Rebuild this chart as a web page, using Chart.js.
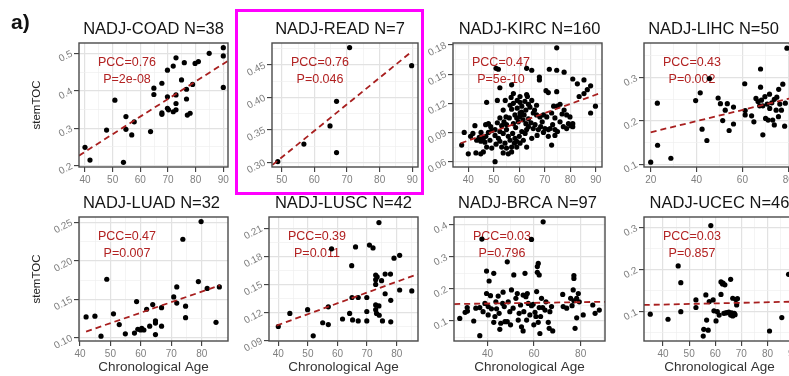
<!DOCTYPE html>
<html><head><meta charset="utf-8">
<script src="https://cdn.jsdelivr.net/npm/chart.js@4.4.1/dist/chart.umd.min.js"></script>
<style>
html,body{margin:0;padding:0;background:#fff;}
#wrap{position:relative;width:789px;height:376px;overflow:hidden;background:#fff;}
#wrap canvas{position:absolute;}
#tag{position:absolute;left:11px;top:11px;font:bold 21px "Liberation Sans",Arial,sans-serif;line-height:21px;color:#111;z-index:5;}
#hl{position:absolute;left:235px;top:9px;width:183px;height:180px;border:3px solid #ff00ff;z-index:10;}
</style></head>
<body><div id="wrap"><div id="tag">a)</div><div id="hl"></div></div>
<script>
// ---------------- DATA ----------------
const titles = ['NADJ-COAD N=38','NADJ-READ N=7','NADJ-KIRC N=160','NADJ-LIHC N=50','NADJ-LUAD N=32','NADJ-LUSC N=42','NADJ-BRCA N=97','NADJ-UCEC N=46'];
const pccLabels = ['PCC=0.76','PCC=0.76','PCC=0.47','PCC=0.43','PCC=0.47','PCC=0.39','PCC=0.03','PCC=0.03'];
const pLabels = ['P=2e-08','P=0.046','P=5e-10','P=0.002','P=0.007','P=0.011','P=0.796','P=0.857'];
const yAxisTitle = 'stemTOC';
const xAxisTitle = 'Chronological Age';

const coadAge = [40,41.8,47.8,50.8,53.9,54.8,54.8,56.9,57.8,63.7,64.9,64.9,67.8,67.8,67.8,69.8,69.8,69.8,71.9,71.9,72.9,72.9,72.9,72.9,74.9,75.9,76.7,76.7,77,78,78.9,79.8,81,84.9,90,90,90,70.2];
const coadToc = [0.249,0.215,0.295,0.375,0.209,0.331,0.297,0.282,0.317,0.291,0.407,0.390,0.420,0.341,0.337,0.455,0.384,0.353,0.466,0.344,0.488,0.389,0.366,0.349,0.429,0.475,0.404,0.378,0.335,0.340,0.417,0.473,0.478,0.500,0.515,0.493,0.409,0.349];
const coadFitX = [37.8,91.7], coadFitY = [0.2267,0.480];
const coadXTicks = [40,50,60,70,80,90], coadYTicks = ['0.2','0.3','0.4','0.5'];

const readAge = [48.8,56.8,64.8,66.8,66.8,70.8,89.8];
const readToc = [0.301,0.328,0.356,0.394,0.315,0.477,0.449];
const readFitX = [47.2,89.8], readFitY = [0.296,0.4706];
const readXTicks = [50,60,70,80,90], readYTicks = ['0.30','0.35','0.40','0.45'];

const kircAge = [74.7,50.9,51.8,62.9,64.9,71.8,74.7,77.6,81,82.8,85.4,88,67.9,67.9,52.4,57,70.5,71.4,74.7,83.5,85.4,86.7,57.7,60.3,62.9,54.5,51.4,47.2,60.3,61,62.2,63.6,64.2,75,76,77.6,89.9,88,79.9,78.6,53.7,57,59.2,60.9,61.9,62.6,65.5,66.8,68.1,69.5,70.8,72.7,74,60.3,59,59.6,61.5,63.6,64.6,56.1,54.8,52.4,51.4,48.8,47.9,46.8,42.6,38.4,40.9,43.3,44.3,44.9,45.9,46.5,48.5,50.5,52.4,53.7,55,55.7,56.4,57.4,58.3,59,60,60.3,61.6,62.3,62.9,63.6,65.5,66.2,67.5,68.4,70.1,71.4,72.1,73.1,74,74,75,72.7,71.4,76,77.3,78.6,79.3,80.2,81,81,52.4,53.1,53.7,55,54.4,57,58.1,59,57,55.7,50.5,40,43,44.9,45.9,37.4,47.2,49.2,50.9,51.8,47.9,49.2,50.5,46.9,45,66.8,64.9,59.2,57.7,56.4,60.3,58.3,53.1,55,57.7,62.6,69.5,67,64.9,62.9,41.8,56.8,63.2,66,69,73.5,76.8,58.6,61,54];
const kircToc = [0.177,0.156,0.155,0.156,0.154,0.155,0.154,0.152,0.145,0.140,0.144,0.138,0.147,0.144,0.136,0.139,0.133,0.131,0.132,0.127,0.130,0.134,0.130,0.127,0.129,0.123,0.123,0.121,0.121,0.117,0.122,0.119,0.116,0.117,0.119,0.113,0.117,0.110,0.106,0.108,0.113,0.114,0.115,0.111,0.108,0.113,0.110,0.108,0.106,0.108,0.106,0.110,0.105,0.106,0.105,0.101,0.103,0.104,0.100,0.105,0.106,0.105,0.100,0.096,0.099,0.098,0.097,0.090,0.086,0.082,0.085,0.081,0.084,0.080,0.082,0.087,0.091,0.089,0.093,0.086,0.082,0.089,0.084,0.081,0.086,0.079,0.082,0.089,0.093,0.096,0.094,0.098,0.093,0.096,0.094,0.093,0.094,0.098,0.093,0.087,0.091,0.077,0.086,0.101,0.096,0.094,0.099,0.097,0.099,0.096,0.081,0.075,0.069,0.074,0.079,0.075,0.079,0.075,0.070,0.068,0.060,0.068,0.069,0.068,0.070,0.077,0.075,0.074,0.078,0.084,0.090,0.092,0.093,0.086,0.090,0.118,0.123,0.123,0.120,0.118,0.110,0.108,0.097,0.098,0.099,0.099,0.090,0.087,0.084,0.075,0.089,0.126,0.127,0.113,0.101,0.117,0.109,0.095,0.091,0.101];
const kircFitX = [37.0,92.4], kircFitY = [0.0789,0.131];
const kircXTicks = [40,50,60,70,80,90], kircYTicks = ['0.06','0.09','0.12','0.15','0.18'];

const lihcAge = [20,22.9,23,28.8,39.6,41.6,42.4,44.5,45.6,49.4,50.4,51.4,52.5,53.4,54.2,56.1,56.1,61,61.2,61.2,64,65,65.9,66.8,67.5,67.9,67.9,68.3,68.9,68.9,69.8,70.1,70.8,71.2,71.8,71.9,72.8,73.2,73.9,73.9,74.7,75,75.7,75.8,76.3,77,77.6,78.4,78.7,79.4];
const lihcToc = [0.105,0.241,0.144,0.114,0.247,0.265,0.181,0.155,0.298,0.253,0.240,0.201,0.225,0.240,0.178,0.232,0.193,0.286,0.224,0.214,0.212,0.198,0.252,0.245,0.235,0.320,0.278,0.248,0.235,0.168,0.256,0.206,0.239,0.202,0.262,0.229,0.242,0.202,0.250,0.191,0.225,0.255,0.210,0.273,0.239,0.225,0.285,0.188,0.241,0.368];
const lihcFitX = [20,82.05], lihcFitY = [0.174,0.2538];
const lihcXTicks = [20,40,60,80], lihcYTicks = ['0.1','0.2','0.3'];

const luadAge = [42,44.9,46.9,48.8,51,52.9,54.9,57.9,58.6,59,59.9,61,61.9,62.9,63.9,64.8,64.8,64.8,66.8,66.8,70.8,71.8,71.8,73.8,74.7,74.7,78.9,79.8,81.8,84.7,85.8,60.3];
const luadToc = [0.127,0.128,0.102,0.176,0.131,0.117,0.105,0.106,0.147,0.111,0.110,0.110,0.137,0.115,0.143,0.122,0.119,0.104,0.139,0.115,0.153,0.166,0.145,0.228,0.141,0.126,0.173,0.251,0.164,0.120,0.166,0.112];
const luadFitX = [42,86], luadFitY = [0.108,0.168];
const luadXTicks = [40,50,60,70,80], luadYTicks = ['0.10','0.15','0.20','0.25'];

const luscAge = [40,43.9,49.9,51.8,55,56.9,56.9,58,61.7,64.1,64.8,64.9,65.1,66.1,67,67,69.9,69.9,69.9,70.8,72,72.9,72.9,72.9,72.9,72.9,73.2,74,74,74.1,74.9,75.2,76.1,76.1,77.9,78,78,79.1,81,81,85.1,73.4];
const luscToc = [0.105,0.119,0.123,0.095,0.109,0.126,0.107,0.188,0.113,0.119,0.170,0.136,0.112,0.190,0.136,0.111,0.136,0.121,0.111,0.192,0.189,0.160,0.155,0.150,0.128,0.123,0.119,0.216,0.127,0.117,0.154,0.111,0.161,0.140,0.161,0.133,0.110,0.178,0.181,0.144,0.143,0.158];
const luscFitX = [39.4,87.1], luscFitY = [0.106,0.161];
const luscXTicks = [40,50,60,70,80], luscYTicks = ['0.09','0.12','0.15','0.18','0.21'];

const brcaAge = [28.1,30.4,31.4,31.3,34.1,35,36.7,36.7,37.6,38.1,38.9,39.6,39.6,40.3,40.3,40.7,41.3,41.7,42.7,42.7,43.2,43.6,43.9,44.6,45,45.3,45.7,46.5,46.7,47.2,47.5,48.5,48.5,48.9,49.6,49.9,50.3,51,51.3,52.2,52.8,53.2,53.6,54.2,54.6,55.3,55.6,56.1,56.5,56.8,57.1,57.5,55.3,58.2,58.9,58.9,59.6,59.9,60.4,60.8,61.1,61.4,61.4,61.8,61.8,62.2,62.2,62.5,62.8,63.2,63.7,63.9,64.7,65.1,66.1,66.5,66.8,67.5,68,72.3,72.5,74,75.7,76.3,76.8,77.1,77.1,77.1,77.6,78.3,78.3,79,79.4,81.1,85.2,86.2,88];
const brcaToc = [0.108,0.127,0.131,0.142,0.100,0.140,0.054,0.142,0.356,0.129,0.155,0.256,0.186,0.119,0.145,0.225,0.179,0.138,0.249,0.096,0.114,0.160,0.138,0.178,0.124,0.074,0.093,0.155,0.190,0.145,0.098,0.098,0.285,0.160,0.129,0.088,0.197,0.140,0.244,0.171,0.186,0.103,0.124,0.150,0.082,0.181,0.129,0.249,0.176,0.103,0.186,0.155,0.069,0.119,0.148,0.355,0.152,0.088,0.127,0.114,0.192,0.270,0.252,0.280,0.096,0.142,0.244,0.061,0.114,0.171,0.142,0.410,0.134,0.160,0.096,0.077,0.129,0.145,0.069,0.183,0.145,0.140,0.171,0.148,0.197,0.163,0.242,0.233,0.077,0.171,0.110,0.186,0.160,0.119,0.150,0.124,0.134];
const brcaFitX = [25.7,90.45], brcaFitY = [0.153,0.160];
const brcaXTicks = [40,60,80], brcaYTicks = ['0.1','0.2','0.3','0.4'];

const ucecAge = [35.1,41.9,45.8,46.8,46.8,52.6,52.6,55.4,55.6,56.4,56.7,57.3,57.7,58.3,59.2,59.5,60.3,61.5,62.2,62.2,62.8,63.3,63.7,64.6,65.9,65.9,66.3,66.7,66.7,67.3,67.9,68.2,80.8,85.5,88.1,60.8,64,65.2,67.6,68.5,63];
const ucecToc = [0.094,0.082,0.209,0.169,0.100,0.128,0.110,0.042,0.058,0.140,0.080,0.056,0.124,0.305,0.128,0.102,0.078,0.092,0.141,0.171,0.166,0.096,0.164,0.098,0.177,0.092,0.097,0.132,0.090,0.096,0.129,0.116,0.054,0.086,0.189,0.100,0.097,0.099,0.093,0.131,0.168];
const ucecFitX = [32.6,90.56], ucecFitY = [0.116,0.124];
const ucecXTicks = [40,50,60,70,80,90], ucecYTicks = ['0.1','0.2','0.3'];

// ---------------- LAYOUT ----------------
const FONT = '"Liberation Sans", Arial, Helvetica, sans-serif';
const panels = [
  {age:coadAge, toc:coadToc, fx:coadFitX, fy:coadFitY, xt:coadXTicks, yt:coadYTicks, box:[79,43,228,167], xr:[37.83,91.7], yr:[0.1965,0.5275], ytitle:true, xtitle:false, tdx:0},
  {age:readAge, toc:readToc, fx:readFitX, fy:readFitY, xt:readXTicks, yt:readYTicks, box:[272,43,418,167], xr:[47.03,91.75], yr:[0.2927,0.484], tdx:-5},
  {age:kircAge, toc:kircToc, fx:kircFitX, fy:kircFitY, xt:kircXTicks, yt:kircYTicks, box:[453,43,602,167], xr:[34.0,92.47], yr:[0.0545,0.182], tdx:2},
  {age:lihcAge, toc:lihcToc, fx:lihcFitX, fy:lihcFitY, xt:lihcXTicks, yt:lihcYTicks, box:[644,43,793,167], xr:[17.08,82.05], yr:[0.0938,0.380], tdx:-5},
  {age:luadAge, toc:luadToc, fx:luadFitX, fy:luadFitY, xt:luadXTicks, yt:luadYTicks, box:[79,217,228,341], xr:[39.67,88.64], yr:[0.0957,0.2569], ytitle:true, xtitle:true, tdx:-2},
  {age:luscAge, toc:luscToc, fx:luscFitX, fy:luscFitY, xt:luscXTicks, yt:luscYTicks, box:[269,217,418,341], xr:[36.86,87.2], yr:[0.0895,0.222], xtitle:true, tdx:0},
  {age:brcaAge, toc:brcaToc, fx:brcaFitX, fy:brcaFitY, xt:brcaXTicks, yt:brcaYTicks, box:[454,217,605,341], xr:[25.63,90.45], yr:[0.0375,0.425], xtitle:true, tdx:-2},
  {age:ucecAge, toc:ucecToc, fx:ucecFitX, fy:ucecFitY, xt:ucecXTicks, yt:ucecYTicks, box:[644,217,795,341], xr:[32.7,90.56], yr:[0.0302,0.3255], xtitle:true, tdx:0},
];
const YW = 70, XH = 45, PT = 40, PR = 16, YTITLE_X = 36.7;

function tickList(vals, labs, lo, hi) {
  const step = vals[1] - vals[0];
  const out = [];
  vals.forEach((v, i) => out.push({value: v, mj: true, lab: labs[i]}));
  const mins = [vals[0] - step / 2];
  vals.forEach(v => mins.push(v + step / 2));
  mins.forEach(m => out.push({value: m, mj: false, lab: ''}));
  return out.filter(t => t.value >= lo - 1e-9 && t.value <= hi + 1e-9).sort((a, b) => a.value - b.value);
}

const wrap = document.getElementById('wrap');
Chart.defaults.font.family = FONT;

panels.forEach((pn, k) => {
  const [l, t, r, b] = pn.box;
  const W = YW + (r - l) + PR, H = PT + (b - t) + XH;
  const cv = document.createElement('canvas');
  cv.width = W; cv.height = H;
  cv.style.left = (l - YW) + 'px'; cv.style.top = (t - PT) + 'px';
  cv.style.width = W + 'px'; cv.style.height = H + 'px';
  wrap.appendChild(cv);
  const yVals = pn.yt.map(Number);
  const xLabs = pn.xt.map(String);
  const pts = pn.age.map((a, i) => ({x: a, y: pn.toc[i]}));
  const fit = pn.fx.map((a, i) => ({x: a, y: pn.fy[i]}));
  const canvasLeft = l - YW;

  const decor = {
    id: 'decor',
    beforeDatasetsDraw(chart) {
      const {ctx, chartArea: a} = chart;
      ctx.save();
      ctx.fillStyle = '#b22222';
      ctx.font = '12.5px ' + FONT;
      ctx.textAlign = 'center'; ctx.textBaseline = 'middle';
      ctx.fillText(pccLabels[k], a.left + 48, a.top + 19.3);
      ctx.fillText(pLabels[k], a.left + 48, a.top + 36.8);
      ctx.restore();
    },
    afterDatasetsDraw(chart) {
      const {ctx, chartArea: a} = chart;
      ctx.save();
      ctx.strokeStyle = '#4a4a4a'; ctx.lineWidth = 1.4;
      ctx.strokeRect(a.left, a.top, a.right - a.left, a.bottom - a.top);
      ctx.restore();
    },
    afterDraw(chart) {
      const {ctx, chartArea: a} = chart;
      ctx.save();
      ctx.textAlign = 'center'; ctx.textBaseline = 'middle';
      ctx.fillStyle = '#151515';
      ctx.font = '16.5px ' + FONT;
      ctx.fillText(titles[k], (a.left + a.right) / 2 + pn.tdx, a.top - 13.3);
      if (pn.xtitle) {
        ctx.fillStyle = '#333';
        ctx.font = '13.5px ' + FONT;
        ctx.fillText(xAxisTitle, (a.left + a.right) / 2, a.bottom + 26.7);
      }
      if (pn.ytitle) {
        ctx.fillStyle = '#222';
        ctx.font = '11.5px ' + FONT;
        ctx.translate(YTITLE_X - canvasLeft, (a.top + a.bottom) / 2);
        ctx.rotate(-Math.PI / 2);
        ctx.fillText(yAxisTitle, 0, 0);
      }
      ctx.restore();
    }
  };

  const gridOpts = {
    color: c => (c.tick && c.tick.mj) ? '#e2e2e2' : '#efefef',
    lineWidth: c => (c.tick && c.tick.mj) ? 1.2 : 0.7,
    tickColor: c => (c.tick && c.tick.mj) ? '#3a3a3a' : 'rgba(0,0,0,0)',
    tickWidth: 1.1,
    tickLength: 5,
    drawTicks: true
  };
  const tickFont = {family: FONT, size: 10};

  new Chart(cv, {
    type: 'scatter',
    data: {
      datasets: [
        {data: fit, showLine: true, borderColor: '#a81f1f', borderWidth: 1.8, borderDash: [6, 4], pointRadius: 0, fill: false, order: 0},
        {data: pts, pointBackgroundColor: '#000', pointBorderWidth: 0, pointRadius: 2.6, showLine: false, order: 1}
      ]
    },
    options: {
      responsive: false, maintainAspectRatio: false, animation: false, devicePixelRatio: 1, events: [],
      layout: {padding: {top: PT, right: PR, left: 0, bottom: 0}},
      plugins: {legend: {display: false}, tooltip: {enabled: false}, title: {display: false}},
      scales: {
        x: {
          type: 'linear', min: pn.xr[0], max: pn.xr[1],
          afterBuildTicks: s => { s.ticks = tickList(pn.xt, xLabs, pn.xr[0], pn.xr[1]); },
          afterFit: s => { s.height = XH; },
          ticks: {autoSkip: false, maxRotation: 0, minRotation: 0, padding: 2, color: '#7f7f7f', font: tickFont,
                  callback: (v, i, ts) => ts[i].lab || ''},
          grid: gridOpts,
          border: {display: false}
        },
        y: {
          type: 'linear', min: pn.yr[0], max: pn.yr[1],
          afterBuildTicks: s => { s.ticks = tickList(yVals, pn.yt, pn.yr[0], pn.yr[1]); },
          afterFit: s => { s.width = YW; },
          ticks: {autoSkip: false, minRotation: 27, maxRotation: 27, padding: 2, color: '#7f7f7f', font: tickFont,
                  callback: (v, i, ts) => ts[i].lab || ''},
          grid: gridOpts,
          border: {display: false}
        }
      }
    },
    plugins: [decor]
  });
});
</script>
</body></html>
